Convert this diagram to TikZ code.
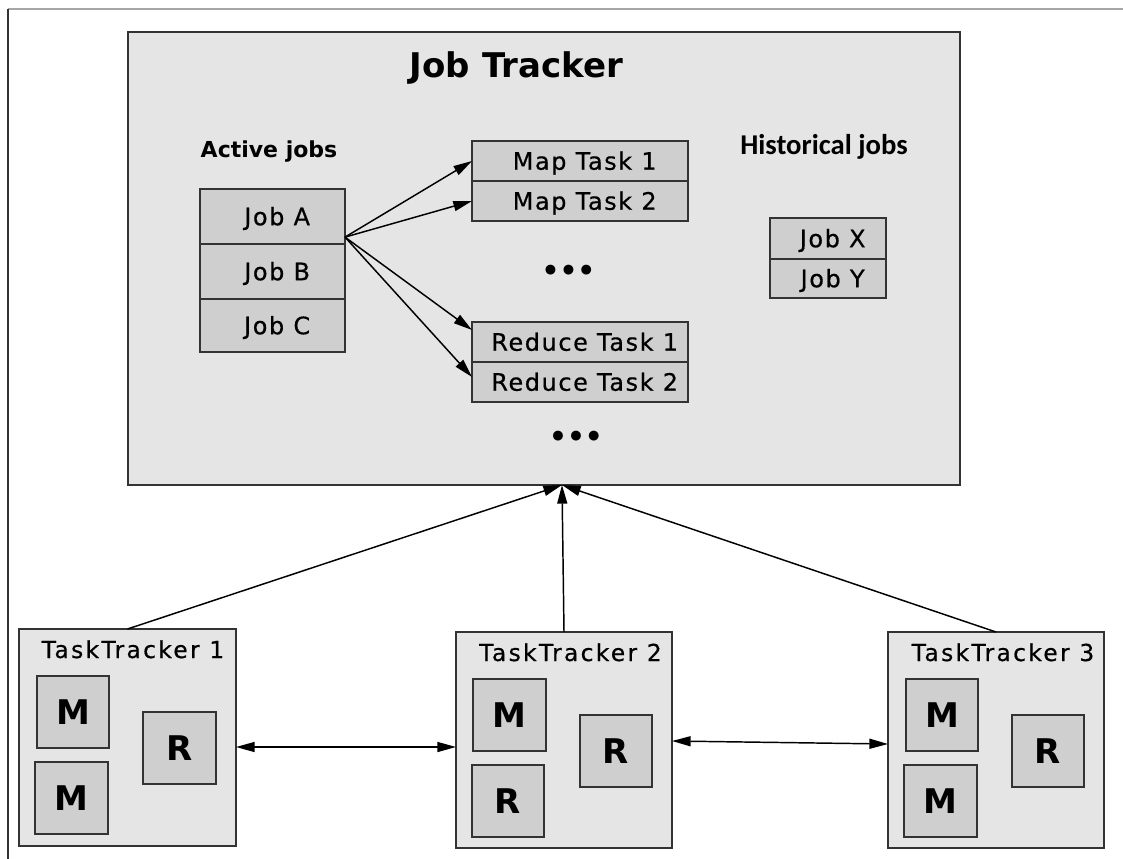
\documentclass[tikz,border=0pt]{standalone}
\usepackage{fontspec}
\setmainfont{DejaVu Sans}
\newfontfamily\cellfont{DejaVu Sans}[LetterSpace=6.5, FakeBold=0.5]
\newfontfamily\trackerfont{DejaVu Sans}[LetterSpace=10, FakeBold=0.5]
\newfontfamily\calfont{Carlito}
\usetikzlibrary{arrows.meta,calc}
\definecolor{panel}{HTML}{E5E5E5}
\definecolor{cellfill}{HTML}{CFCFCF}
\definecolor{edge}{HTML}{333333}

\tikzset{
  panelbox/.style={draw=edge, line width=1.2pt, fill=panel, inner sep=0pt, outer sep=0pt},
  cell/.style={draw=edge, line width=1.1pt, fill=cellfill, inner sep=0pt, outer sep=0pt,
    font=\cellfont\fontsize{18}{20}\selectfont, text height=13.1pt, text depth=0pt,
    execute at begin node={\hspace*{7pt}}},
  slot/.style={draw=edge, line width=1.1pt, fill=cellfill, inner sep=0pt, outer sep=0pt,
    font=\bfseries\fontsize{25.5}{27}\selectfont, text height=18.6pt, text depth=0pt},
  arr/.style={draw=black, line width=1.1pt, -{Triangle[length=14pt,width=7.5pt]}},
  biarr/.style={draw=black, line width=1.1pt, {Triangle[length=14pt,width=7.5pt]}-{Triangle[length=14pt,width=7.5pt]}},
  heading/.style={anchor=base, inner sep=0pt},
  trackertitle/.style={anchor=base, inner sep=0pt, font=\trackerfont\fontsize{17.5}{19}\selectfont},
  dots/.style={inner sep=0pt, font=\bfseries\fontsize{21}{23}\selectfont}
}

% box given by pixel corners: style, name, x1, y1, x2, y2, text
\newcommand{\pxnode}[7]{%
  \node[#1, minimum width={(#5-#3)*0.75pt}, minimum height={(#6-#4)*0.75pt}]
    (#2) at ({(#3+#5)/2},{(#4+#6)/2}) {#7};}

\begin{document}
\begin{tikzpicture}[x=0.75pt, y=-0.75pt]
  \useasboundingbox (0,0) rectangle (1123,859);
  \fill[white] (0,0) rectangle (1123,859);
  \draw[gray!70, line width=0.9pt] (8,9) -- (1123,9);
  \draw[edge, line width=0.9pt] (8,9) -- (8,859);

  % Job Tracker
  \pxnode{panelbox}{jt}{128}{32}{960}{485}{}
  \node[heading, font=\bfseries\fontsize{25.5}{28}\selectfont] (jttitle) at (516.5,78) {Job Tracker};
  \node[heading, font=\bfseries\fontsize{16.5}{18}\selectfont] (activelbl) at (269,158) {Active jobs};
  \node[heading, font=\calfont\bfseries\fontsize{21.5}{24}\selectfont] (histlbl) at (824,155) {Historical jobs};

  \pxnode{cell}{jobA}{200}{189}{345}{244}{Job A}
  \pxnode{cell}{jobB}{200}{244}{345}{299}{Job B}
  \pxnode{cell}{jobC}{200}{299}{345}{352}{Job C}

  \pxnode{cell}{map1}{472}{141}{688}{181}{Map Task 1}
  \pxnode{cell}{map2}{472}{181}{688}{221}{Map Task 2}
  \pxnode{cell}{red1}{472}{322}{688}{362}{Reduce Task 1}
  \pxnode{cell}{red2}{472}{362}{688}{402}{Reduce Task 2}

  \pxnode{cell}{jobX}{770}{218}{886}{259}{Job X}
  \pxnode{cell}{jobY}{770}{259}{886}{298}{Job Y}

  \node[dots] (moretasks) at (568.5,273) {•••};
  \node[dots] (morejobs) at (576,439) {•••};

  % fan-out from the first job to its tasks
  \coordinate (fan) at ($(jobA.east)!0.75!(jobA.south east)$);
  \coordinate (r1in) at ($(red1.north west)!0.2!(red1.south west)$);
  \coordinate (r2in) at ($(red2.north west)!0.375!(red2.south west)$);
  \draw[arr] (fan) -- (map1.west);
  \draw[arr] (fan) -- (map2.west);
  \draw[arr] (fan) -- (r1in);
  \draw[arr] (fan) -- (r2in);

  % Task trackers
  \pxnode{panelbox}{tt1}{19}{629}{236}{846}{}
  \pxnode{panelbox}{tt2}{456}{632}{672}{848}{}
  \pxnode{panelbox}{tt3}{888}{632}{1104}{848}{}
  \node[trackertitle] (tt1title) at (133,658) {TaskTracker 1};
  \node[trackertitle] (tt2title) at (570.5,661) {TaskTracker 2};
  \node[trackertitle] (tt3title) at (1003,661) {TaskTracker 3};

  \pxnode{slot}{t1m1}{37}{676}{109}{748}{M}
  \pxnode{slot}{t1m2}{35}{762}{108}{834}{M}
  \pxnode{slot}{t1r1}{143}{712}{216}{784}{R}

  \pxnode{slot}{t2m1}{473}{679}{546}{751}{M}
  \pxnode{slot}{t2r1}{472}{765}{544}{837}{R}
  \pxnode{slot}{t2r2}{580}{715}{652}{787}{R}

  \pxnode{slot}{t3m1}{906}{679}{978}{751}{M}
  \pxnode{slot}{t3m2}{904}{765}{977}{837}{M}
  \pxnode{slot}{t3r1}{1012}{715}{1084}{787}{R}

  % heartbeats to the job tracker
  \coordinate (jtin) at ($(jt.south)+(18,0)$);
  \draw[arr] (tt1.north) -- (jtin);
  \draw[arr] (tt2.north) -- (jtin);
  \draw[arr] (tt3.north) -- (jtin);

  % links between task trackers
  \coordinate (l12a) at ($(tt1.east)+(0,9.5)$);
  \coordinate (l12b) at ($(tt2.west)+(0,7)$);
  \coordinate (l23a) at ($(tt2.east)+(0,1)$);
  \coordinate (l23b) at ($(tt3.west)+(0,4)$);
  \draw[biarr] (l12a) -- (l12b);
  \draw[biarr] (l23a) -- (l23b);
\end{tikzpicture}
\end{document}
